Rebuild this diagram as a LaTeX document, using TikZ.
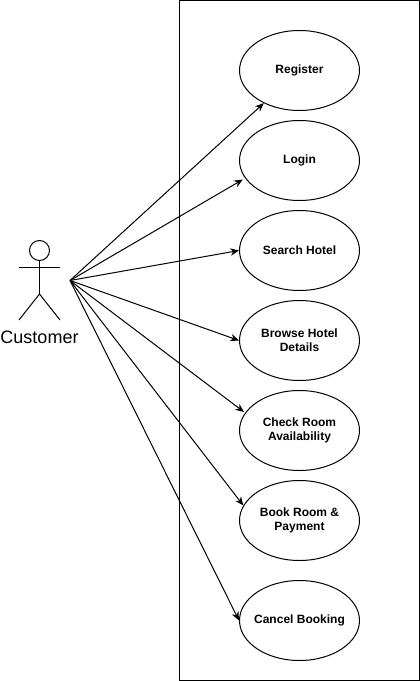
\documentclass[tikz,border=0pt]{standalone}
\usepackage{fontspec}
\setmainfont{Liberation Sans}
\usetikzlibrary{positioning,shapes.geometric,arrows.meta}
\tikzset{
  usecase/.style={ellipse, draw, line width=0.75pt, minimum width=90pt, minimum height=60pt,
    inner sep=-6pt, align=center, font=\fontsize{9}{10.8}\selectfont\bfseries},
  assoc/.style={-{Stealth[length=6.5pt,width=5.5pt]}, line width=0.75pt},
  stick/.style={line width=0.75pt}
}

\begin{document}
\begin{tikzpicture}[x=0.75pt,y=-0.75pt]
    \useasboundingbox (0,0) rectangle (420,681);

    \node (System) at (299.5,340.5) [draw, line width=0.75pt, minimum width=180pt,
            minimum height=510pt, inner sep=0pt] {};

    % use cases
    \node (Register) at (299.5,70.5) [usecase] {Register};
    \node (Login) at (299.5,160.5) [usecase] {Login};
    \node (Search) at (299.5,250.5) [usecase] {Search Hotel};
    \node (Browse) at (299.5,340.5) [usecase] {Browse Hotel\\Details};
    \node (Check) at (299.5,430.5) [usecase] {Check Room\\Availability};
    \node (Book) at (299.5,520.5) [usecase] {Book Room \&\\Payment};
    \node (Cancel) at (299.5,620.5) [usecase] {Cancel Booking};

    % the actor
    \node (Head) at (39.5,250.5) [circle, draw, line width=0.75pt, minimum size=15pt, inner sep=0pt] {};
    \coordinate (Hip) at (39.5,294);
    \coordinate (ArmL) at (19,267);
    \coordinate (ArmR) at (60,267);
    \coordinate (FootL) at (19,320);
    \coordinate (FootR) at (60,320);
    \draw[stick] (Head.south) -- (Hip);
    \draw[stick] (ArmL) -- (ArmR);
    \draw[stick] (FootL) -- (Hip) -- (FootR);
    \node (Customer) at (39.5,337) [font=\fontsize{13.5}{16}\selectfont, inner sep=0pt] {Customer};

    \coordinate (Hand) at (70,280.5);
    \draw[assoc] (Hand) -- (Register);
    \draw[assoc, shorten >=2pt] (Hand) -- (Login.198);
    \draw[assoc] (Hand) -- (Search.180);
    \draw[assoc] (Hand) -- (Browse.180);
    \draw[assoc, shorten >=1pt] (Hand) -- (Check.162);
    \draw[assoc] (Hand) -- (Book.165);
    \draw[assoc] (Hand) -- (Cancel.180);

  \end{tikzpicture}
\end{document}
